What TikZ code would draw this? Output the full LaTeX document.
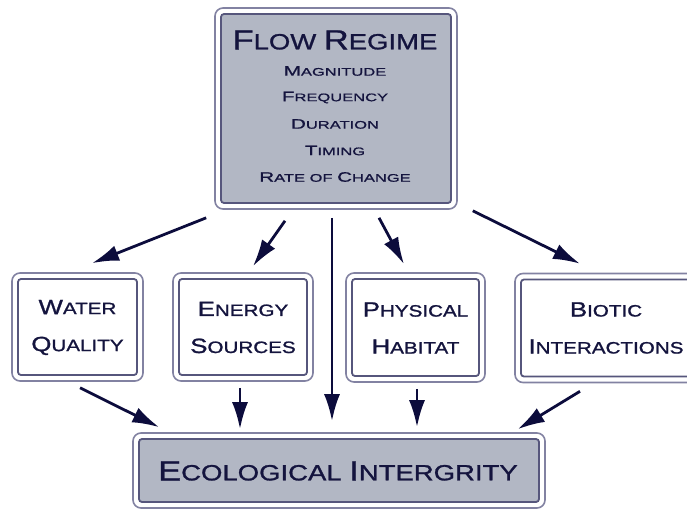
\documentclass[tikz,border=0pt]{standalone}
\usepackage{fontspec}
\setmainfont{Liberation Sans}
\newfontfamily\mainwide[FakeStretch=1.25,FakeBold=1.2]{Liberation Sans}
\newfontfamily\listwide[FakeStretch=1.5,FakeBold=1]{Liberation Sans}
\usetikzlibrary{arrows.meta,calc}
\definecolor{boxfill}{HTML}{B2B7C4}
\definecolor{outerln}{HTML}{8282A2}
\definecolor{innerln}{HTML}{56567C}
\definecolor{txt}{HTML}{14143E}
\definecolor{arrc}{HTML}{0C0C3C}
\newcommand\Cap[1]{\scalebox{1.25}{#1}}
\tikzset{
  framebox/.style={draw=outerln, line width=1.6pt, rounded corners=8pt, fill=white,
    inner sep=0pt, text=txt},
  grayin/.style={path picture={\draw[innerln, line width=1.8pt, rounded corners=3pt, fill=boxfill]
      ([xshift=6pt,yshift=6pt]path picture bounding box.south west) rectangle
      ([xshift=-6pt,yshift=-6pt]path picture bounding box.north east);}},
  whitein/.style={path picture={\draw[innerln, line width=1.8pt, rounded corners=3pt, fill=white]
      ([xshift=6pt,yshift=6pt]path picture bounding box.south west) rectangle
      ([xshift=-6pt,yshift=-6pt]path picture bounding box.north east);}},
  midtext/.style={align=center, font=\mainwide\fontsize{16.5}{37}\selectfont},
  listtext/.style={text=txt, inner sep=0pt, font=\listwide\fontsize{11}{13}\selectfont},
  arr/.style={draw=arrc, line width=2.8pt, -{Latex[length=27pt,width=16pt]}},
}
\begin{document}
\begin{tikzpicture}[x=1pt,y=-1pt]
\useasboundingbox (0,0) rectangle (687,508);
% top box
\node[framebox, grayin, minimum width=242pt, minimum height=201pt] (top) at (336,108.5) {};
\node[text=txt, inner sep=0pt, font=\mainwide\fontsize{22}{26}\selectfont] (title) at (335,40) {\Cap{F}LOW \Cap{R}EGIME};
\node[listtext] (l1) at (335,71) {\Cap{M}AGNITUDE};
\node[listtext] (l2) at (335,97.5) {\Cap{F}REQUENCY};
\node[listtext] (l3) at (335,124) {\Cap{D}URATION};
\node[listtext] (l4) at (335,150.5) {\Cap{T}IMING};
\node[listtext] (l5) at (335,177) {\Cap{R}ATE OF \Cap{C}HANGE};
% middle boxes
\node[framebox, whitein, minimum width=131pt, minimum height=108pt] (water) at (77.5,327) {};
\node[midtext, text=txt] (waterT) at (77.5,327.5) {\Cap{W}ATER\\\Cap{Q}UALITY};
\node[framebox, whitein, minimum width=140pt, minimum height=108pt] (energy) at (243,327) {};
\node[midtext, text=txt] (energyT) at (243,327.5) {\Cap{E}NERGY\\\Cap{S}OURCES};
\node[framebox, whitein, minimum width=139pt, minimum height=109pt] (phys) at (415.5,327.5) {};
\node[midtext, text=txt] (physT) at (415.5,328) {\Cap{P}HYSICAL\\\Cap{H}ABITAT};
\node[framebox, whitein, minimum width=182pt, minimum height=109pt] (biotic) at (606,328) {};
\node[midtext, text=txt] (bioticT) at (606,328) {\Cap{B}IOTIC\\\Cap{I}NTERACTIONS};
% bottom box
\node[framebox, grayin, minimum width=412pt, minimum height=75pt] (eco) at (339,470.5) {};
\node[text=txt, inner sep=0pt, font=\mainwide\fontsize{22}{26}\selectfont] (ecoT) at (338,471) {\Cap{E}COLOGICAL \Cap{I}NTERGRITY};
% arrows from top
\draw[arr] ([xshift=-8pt,yshift=-8pt]top.south west) -- ([xshift=14.5pt,yshift=9pt]water.north);
\draw[arr] ([xshift=-51pt,yshift=-11pt]top.south) -- ([xshift=10pt,yshift=6pt]energy.north);
\draw[arr] ([xshift=-4pt,yshift=-8pt]top.south) -- ([xshift=-7pt,yshift=11pt]eco.north);
\draw[arr] ([xshift=43pt,yshift=-8pt]top.south) -- ([xshift=-11.5pt,yshift=8pt]phys.north);
\draw[arr] ([xshift=15pt,yshift=-1pt]top.south east) -- ([xshift=-26pt,yshift=9pt]biotic.north);
% arrows to bottom
\draw[arr] ([xshift=2.5pt,yshift=-6pt]water.south) -- ([xshift=27pt,yshift=5pt]eco.north west);
\draw[arr] ([xshift=-3pt,yshift=-6pt]energy.south) -- ([xshift=-99pt,yshift=3pt]eco.north);
\draw[arr] ([xshift=1.5pt,yshift=-6pt]phys.south) -- ([xshift=78pt,yshift=5pt]eco.north);
\draw[arr] ([xshift=-26pt,yshift=-8pt]biotic.south) -- ([xshift=-28pt,yshift=3pt]eco.north east);
\end{tikzpicture}
\end{document}
